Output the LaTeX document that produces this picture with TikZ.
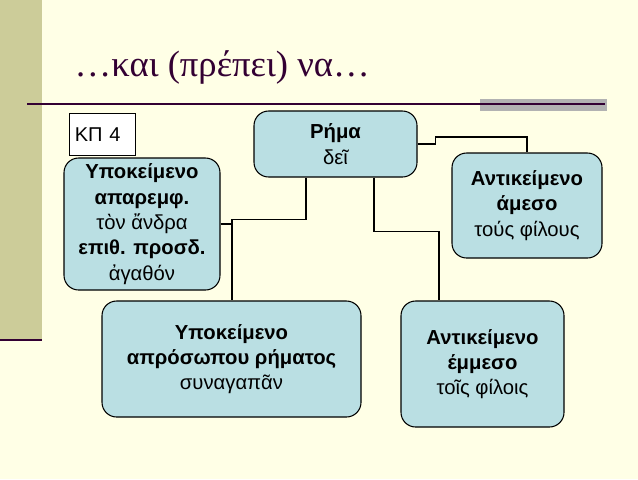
\documentclass[tikz,border=0pt]{standalone}
\usepackage{fontspec}
\setmainfont{Liberation Sans}
\newfontfamily\titlefont{Liberation Serif}
\definecolor{cream}{HTML}{FFFFE6}
\definecolor{band}{HTML}{CCCC99}
\definecolor{boxfill}{HTML}{BADFE3}
\definecolor{plum}{HTML}{330033}
\begin{document}
\begin{tikzpicture}[x=0.75pt,y=-0.75pt,
  bx/.style={draw=black,line width=0.8pt,fill=boxfill,rounded corners=11pt,align=center,inner sep=0pt,font=\fontsize{15.2}{19}\selectfont},
  conn/.style={line width=1.3pt,black}]
\useasboundingbox (0,0) rectangle (638,479);
\fill[cream] (0,0) rectangle (638,479);
\fill[band] (0,0) rectangle (42,340);
\draw[plum,line width=2pt] (0,340) -- (42,340);
\fill[gray!60] (480,99) rectangle (607,111);
\draw[plum,line width=1pt] (27,104) -- (605,104);
\node[anchor=west,text=plum,font=\titlefont\fontsize{27.5}{32}\selectfont] (title) at (70,67) {…και (πρέπει) να…};
\node[draw=black,fill=white,line width=0.6pt,minimum width=66*0.75pt,minimum height=42*0.75pt,font=\fontsize{15}{18}\selectfont,anchor=north west,align=left,text width=55*0.75pt,inner sep=3pt] (kp) at (69,113) {ΚΠ 4};
\node[bx,minimum width=163*0.75pt,minimum height=66*0.75pt] (rhma) at (335.5,144) {\textbf{Ρήμα}\\δεῖ};
\node[bx,minimum width=156*0.75pt,minimum height=132*0.75pt] (ypo) at (142,224) {\textbf{Υποκείμενο}\\\textbf{απαρεμφ.}\\τὸν ἄνδρα\\\textbf{επιθ. προσδ.}\\ἀγαθόν};
\node[bx,minimum width=150*0.75pt,minimum height=105*0.75pt] (ames) at (527,205.5) {\textbf{Αντικείμενο}\\\textbf{άμεσο}\\τούς φίλους};
\node[bx,minimum width=259*0.75pt,minimum height=116*0.75pt] (apr) at (231.5,359) {\textbf{Υποκείμενο}\\\textbf{απρόσωπου ρήματος}\\συναγαπᾶν};
\node[bx,minimum width=163*0.75pt,minimum height=126*0.75pt] (emm) at (482.5,364) {\textbf{Αντικείμενο}\\\textbf{έμμεσο}\\τοῖς φίλοις};
\draw[conn] ([xshift=-29.5*0.75pt]rhma.south) -- ++(0,42) -| ([xshift=0.5*0.75pt]apr.north);
\draw[conn] ([yshift=0]ypo.east) -- ++(12,0);
\draw[conn] ([xshift=38.5*0.75pt]rhma.south) -- ++(0,54) -| ([xshift=-43.5*0.75pt]emm.north);
\draw[conn] ([yshift=0]rhma.east) -- ++(18,0) -- ++(0,-7) -| (ames.north);
\end{tikzpicture}
\end{document}
